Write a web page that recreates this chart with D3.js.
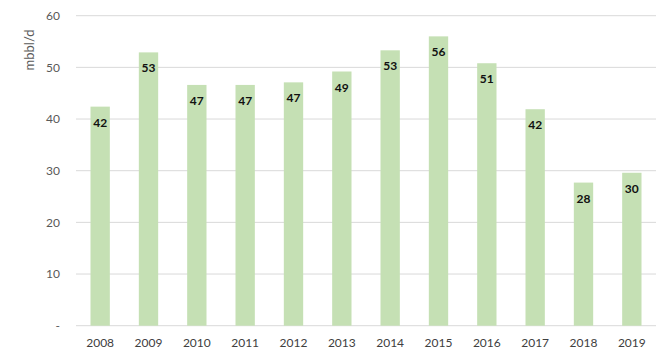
<!DOCTYPE html>
<html><head><meta charset="utf-8">
<script src="https://cdn.jsdelivr.net/npm/d3@7"></script>
<style>body{margin:0;background:#fff;} svg{display:block;}</style>
</head><body>
<script>
const years = ["2008","2009","2010","2011","2012","2013","2014","2015","2016","2017","2018","2019"];
const values = [42.4,52.9,46.6,46.6,47.1,49.2,53.3,56.0,50.8,41.9,27.7,29.6];
const yTicks = [0,10,20,30,40,50,60];
const yTitle = "mbbl/d";

const W=672,H=360;
const m={left:76,right:16,top:15.7,bottom:34.3};
const svg=d3.select("body").append("svg").attr("width",W).attr("height",H);
const x=d3.scaleBand().domain(years).range([m.left,W-m.right]).paddingInner(0.6).paddingOuter(0.3);
const y=d3.scaleLinear().domain([0,60]).range([H-m.bottom,m.top]);
const font="Lato, 'Liberation Sans', sans-serif";

svg.append("g").selectAll("line").data(yTicks).join("line")
  .attr("x1",m.left).attr("x2",W-m.right)
  .attr("y1",d=>y(d)).attr("y2",d=>y(d))
  .attr("stroke","#d9d9d9").attr("stroke-width",1);

const yAxis=d3.axisLeft(y).tickValues(yTicks).tickSize(0).tickPadding(16)
  .tickFormat(d=>d===0?"-":d);
const gy=svg.append("g").attr("transform",`translate(${m.left},0)`).call(yAxis);
gy.select(".domain").remove();
gy.selectAll("text").attr("font-family",font).attr("font-size",12).attr("fill","#595959");

const xAxis=d3.axisBottom(x).tickSize(0).tickPadding(13);
const gx=svg.append("g").attr("transform",`translate(0,${H-m.bottom})`).call(xAxis);
gx.select(".domain").remove();
gx.selectAll("text").attr("font-family",font).attr("font-size",12).attr("fill","#404040");

svg.append("g").selectAll("rect").data(values).join("rect")
  .attr("x",(d,i)=>x(years[i])).attr("width",x.bandwidth())
  .attr("y",d=>y(d)).attr("height",d=>y(0)-y(d))
  .attr("fill","#c5e0b4");

svg.append("g").selectAll("text").data(values).join("text")
  .attr("x",(d,i)=>x(years[i])+x.bandwidth()/2)
  .attr("y",d=>y(d)+20)
  .attr("text-anchor","middle")
  .attr("font-family",font).attr("font-size",12).attr("font-weight","bold").attr("fill","#111")
  .text(d=>Math.round(d));

svg.append("text").attr("transform","translate(34,50) rotate(-90)")
  .attr("text-anchor","middle").attr("font-family",font).attr("font-size",13).attr("fill","#595959")
  .text(yTitle);
</script>
</body></html>
